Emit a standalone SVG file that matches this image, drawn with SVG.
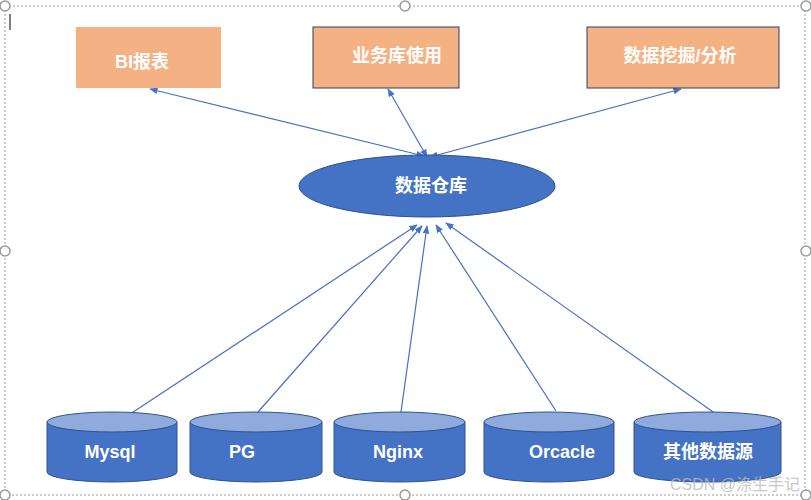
<svg xmlns="http://www.w3.org/2000/svg" width="811" height="500" viewBox="0 0 811 500">
<defs>
<marker id="ah" viewBox="0 0 10 10" refX="9" refY="5" markerWidth="7" markerHeight="7" orient="auto-start-reverse"><path d="M0,1 L10,5 L0,9 z" fill="#4472C4"/></marker>
<style>
.box{fill:#F4B183}
.t{font-family:"Liberation Sans","Noto Sans CJK SC",sans-serif;font-size:18px;font-weight:bold;fill:#fff;text-anchor:middle}
.ln{stroke:#4472C4;stroke-width:1.2;fill:none}
.cb{fill:#4472C4;stroke:#2F528F;stroke-width:1}
.ct{fill:#8FAADC;stroke:#2F528F;stroke-width:1}
.h{fill:#fff;stroke:#999;stroke-width:1.5}
</style>
</defs>
<rect width="811" height="500" fill="#fff"/>
<rect x="5" y="6" width="800" height="489" fill="none" stroke="#999" stroke-dasharray="2,2"/>
<line x1="10" y1="14" x2="10" y2="30" stroke="#000"/>
<g id="handles">
<circle class="h" cx="5" cy="6" r="5"/><circle class="h" cx="405" cy="6" r="5"/><circle class="h" cx="806" cy="6" r="5"/>
<circle class="h" cx="5" cy="251" r="5"/><circle class="h" cx="806" cy="251" r="5"/>
<circle class="h" cx="5" cy="495" r="5"/><circle class="h" cx="405" cy="495" r="5"/><circle class="h" cx="806" cy="495" r="5"/>
</g>
<g id="connectors">
<line class="ln" x1="424" y1="156" x2="150" y2="89" marker-start="url(#ah)" marker-end="url(#ah)"/>
<line class="ln" x1="427" y1="157" x2="388" y2="89" marker-start="url(#ah)" marker-end="url(#ah)"/>
<line class="ln" x1="430" y1="157" x2="681" y2="89" marker-start="url(#ah)" marker-end="url(#ah)"/>
<line class="ln" x1="115" y1="424" x2="417" y2="225" marker-end="url(#ah)"/>
<line class="ln" x1="258" y1="412" x2="422" y2="226" marker-end="url(#ah)"/>
<line class="ln" x1="400" y1="419" x2="427" y2="226" marker-end="url(#ah)"/>
<line class="ln" x1="556" y1="411" x2="436" y2="225" marker-end="url(#ah)"/>
<line class="ln" x1="723" y1="419" x2="446" y2="223" marker-end="url(#ah)"/>
</g>
<g id="bi"><rect class="box" x="76" y="27" width="145" height="61"/><text class="t" x="142" y="68">BI报表</text></g>
<g id="yw"><rect class="box" x="313" y="27" width="146" height="61" stroke="#2F3F5F" stroke-width="1"/><text class="t" x="397" y="62">业务库使用</text></g>
<g id="wj"><rect class="box" x="587" y="27" width="192" height="61" stroke="#2F3F5F" stroke-width="1"/><text class="t" x="680" y="62">数据挖掘/分析</text></g>
<g id="dw"><ellipse cx="427" cy="186" rx="128" ry="31" fill="#4472C4" stroke="#2F528F"/><text class="t" x="431" y="192">数据仓库</text></g>
<g id="mysql"><path class="cb" d="M47,422 V472 A65,10 0 0 0 177,472 V422"/><ellipse class="ct" cx="112" cy="422" rx="65" ry="10"/><text class="t" x="110" y="458">Mysql</text></g>
<g id="pg"><path class="cb" d="M190,422 V472 A66,10 0 0 0 322,472 V422"/><ellipse class="ct" cx="256" cy="422" rx="66" ry="10"/><text class="t" x="242" y="458">PG</text></g>
<g id="nginx"><path class="cb" d="M334,422 V472 A65.5,10 0 0 0 465,472 V422"/><ellipse class="ct" cx="399.5" cy="422" rx="65.5" ry="10"/><text class="t" x="398" y="458">Nginx</text></g>
<g id="orcacle"><path class="cb" d="M484,422 V472 A65,10 0 0 0 614,472 V422"/><ellipse class="ct" cx="549" cy="422" rx="65" ry="10"/><text class="t" x="562" y="458">Orcacle</text></g>
<g id="other"><path class="cb" d="M634,422 V472 A73.5,10 0 0 0 781,472 V422"/><ellipse class="ct" cx="707.5" cy="422" rx="73.5" ry="10"/><text class="t" x="708" y="458">其他数据源</text></g>
<text x="800" y="490" font-family="Liberation Sans,Noto Sans CJK SC,sans-serif" font-size="16" fill="#bbb" text-anchor="end" opacity="0.8">CSDN @涤生手记</text>
</svg>
